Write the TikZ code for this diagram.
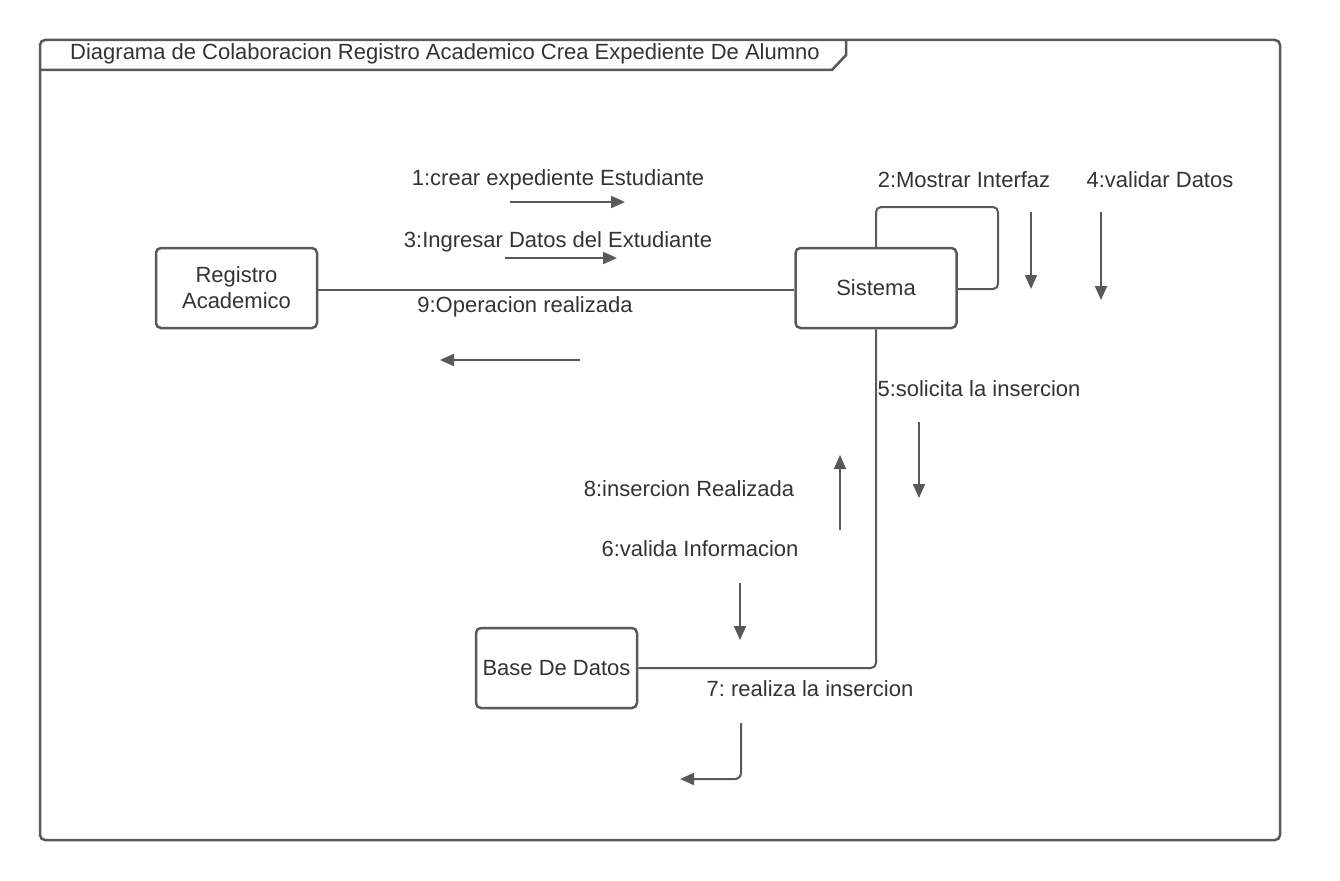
\documentclass[tikz,border=0pt]{standalone}
\usepackage{fontspec}
\setmainfont{Liberation Sans}
\usetikzlibrary{arrows.meta}
\frenchspacing
\definecolor{ln}{HTML}{595959}
\definecolor{tx}{HTML}{333333}
\tikzset{
  obj/.style={draw=ln, line width=2.5pt, rounded corners=5pt, minimum width=161pt, minimum height=80pt, align=center, text=tx, font=\fontsize{22}{26}\selectfont},
  lbl/.style={text=tx, font=\fontsize{22}{26}\selectfont, inner sep=0pt},
  link/.style={draw=ln, line width=2pt},
  msg/.style={draw=ln, line width=2pt, -{Triangle[length=14pt,width=12pt]}},
}
\begin{document}
\begin{tikzpicture}[x=1pt,y=-1pt]
\useasboundingbox (0,0) rectangle (1340,880);
% frame
\draw[ln, line width=2.5pt, rounded corners=5pt] (40,40) rectangle (1280,840);
\draw[ln, line width=2.5pt] (40,70) -- (832,70) -- (846,55) -- (846,40);
\node[lbl] (title) at (445,54) {Diagrama de Colaboracion Registro Academico Crea Expediente De Alumno};
% objects
\node[obj] (reg) at (236.5,288) {Registro\\Academico};
\node[obj] (sis) at (876,288) {Sistema};
\node[obj] (bd) at (556.5,668) {Base De Datos};
% links
\draw[link] (reg.east |- 0,290) -- (sis.west |- 0,290);
\draw[link, rounded corners=5pt] (sis.north) -- (876,207) -- (998,207) -- (998,289) -- (sis.east |- 0,289);
\draw[link, rounded corners=5pt] (sis.south) -- (876,668) -- (bd.east);
% message coordinates
\coordinate (m1a) at (510,202); \coordinate (m1b) at (625,202);
\coordinate (m3a) at (505,258); \coordinate (m3b) at (617,258);
\coordinate (m9a) at (580,360); \coordinate (m9b) at (440,360);
\coordinate (m2a) at (1031,212); \coordinate (m2b) at (1031,289);
\coordinate (m4a) at (1101,212); \coordinate (m4b) at (1101,300);
\coordinate (m5a) at (919,422); \coordinate (m5b) at (919,498);
\coordinate (m8a) at (840,530); \coordinate (m8b) at (840,455);
\coordinate (m6a) at (740,583); \coordinate (m6b) at (740,640);
\coordinate (m7a) at (741,723); \coordinate (m7c) at (741,779); \coordinate (m7b) at (680,779);
\draw[msg] (m1a) -- (m1b);
\draw[msg] (m3a) -- (m3b);
\draw[msg] (m9a) -- (m9b);
\draw[msg] (m2a) -- (m2b);
\draw[msg] (m4a) -- (m4b);
\draw[msg] (m5a) -- (m5b);
\draw[msg] (m8a) -- (m8b);
\draw[msg] (m6a) -- (m6b);
\draw[msg, rounded corners=6pt] (m7a) -- (m7c) -- (m7b);
% labels
\node[lbl] (l1) at (558,180) {1:crear expediente Estudiante};
\node[lbl] (l3) at (558,242) {3:Ingresar Datos del Extudiante};
\node[lbl] (l9) at (525,307) {9:Operacion realizada};
\node[lbl] (l2) at (964,180) {2:Mostrar Interfaz};
\node[lbl] (l4) at (1160,180) {4:validar Datos};
\node[lbl] (l5) at (979,389) {5:solicita la insercion};
\node[lbl] (l8) at (689,489) {8:insercion Realizada};
\node[lbl] (l6) at (700,549) {6:valida Informacion};
\node[lbl] (l7) at (810,689) {7: realiza la insercion};
\end{tikzpicture}
\end{document}
